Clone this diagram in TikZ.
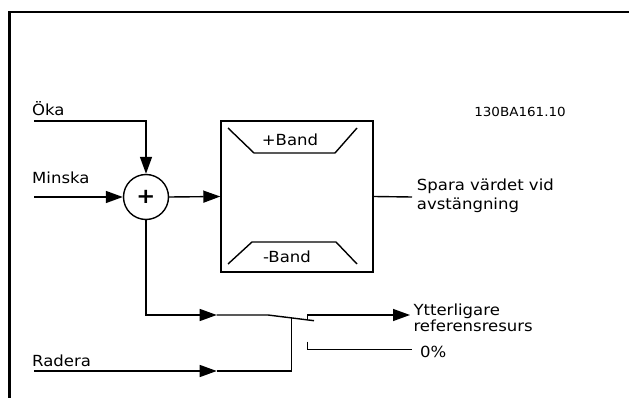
\documentclass[tikz,border=0pt]{standalone}
\usepackage{fontspec}
\setmainfont{DejaVu Sans}[FakeStretch=1.08]
\usetikzlibrary{arrows.meta}

\begin{document}
\begin{tikzpicture}[x=1pt,y=-1pt,
    wire/.style={line width=1.4pt},
    pil/.style={wire,-{Triangle[length=17pt,width=12pt]}},
    txt/.style={inner sep=0pt,font=\fontsize{15.3}{16}\selectfont},
  ]
  \useasboundingbox (0,0) rectangle (629,398);
  % ram
  \draw[line width=2.5pt] (9.5,398) -- (9.5,12) -- (629,12);
  % summering och bandblock
  \node[draw,wire,circle,minimum size=45pt,inner sep=0pt,
        font=\fontsize{21}{21}\selectfont\bfseries] (sum) at (146,197) {+};
  \node[draw,wire,minimum width=152pt,minimum height=151pt,inner sep=0pt] (band) at (297,196.5) {};
  \draw[wire] (228,128) -- (254,153) -- (335,153) -- (357,128);
  \draw[wire] (228,264) -- (252,242) -- (336,242) -- (357,264);
  \node[txt,anchor=base] (plusband) at (290,146) {+Band};
  \node[txt,anchor=base] (minusband) at (287,262) {-Band};
  % in- och utgaangar
  \coordinate (okaIn) at (34,121);
  \coordinate (minIn) at (34,197);
  \coordinate (radIn) at (34,371);
  \coordinate (sparaUt) at (412,197);
  \coordinate (midA) at (216.7,315);
  \coordinate (leverA) at (268,315);
  \coordinate (leverB) at (314,320.7);
  \coordinate (pivot) at (291.7,317.9);
  \coordinate (midB) at (216.7,371);
  \coordinate (radHorn) at (291.7,371);
  \coordinate (kontaktA) at (307.7,320);
  \coordinate (ytterUt) at (410,315);
  \coordinate (kontaktB) at (307.7,341.7);
  \coordinate (nollUt) at (411.7,349.3);
  \node[txt,anchor=base west] (oka) at (32,116) {Öka};
  \node[txt,anchor=base west] (minska) at (32,184) {Minska};
  \node[txt,anchor=base west] (radera) at (32,366.7) {Radera};
  \node[txt,anchor=base west,align=left,font=\fontsize{15.3}{18.6}\selectfont] (spara) at (416.7,209.3) {Spara värdet vid\\avstängning};
  \node[txt,anchor=base west,align=left] (ytter) at (413.3,331.7) {Ytterligare\\referensresurs};
  \node[txt,anchor=base west] (noll) at (420,357) {0\%};
  \node[inner sep=0pt,font=\fontsize{12.5}{13}\selectfont] (kod) at (520,112) {130BA161.10};
  % ledningar
  \draw[pil] (okaIn) -| (sum.north);
  \draw[pil] (minIn) -- (sum.west);
  \draw[pil] (sum.east) -- (band.west);
  \draw[wire] (band.east) -- (sparaUt);
  % omkopplare
  \draw[pil] (sum.south) |- (midA);
  \draw[wire] (midA) -- (leverA) -- (leverB);
  \draw[pil] (radIn) -- (midB);
  \draw[wire] (midB) -- (radHorn) -- (pivot);
  \draw[pil] (kontaktA) |- (ytterUt);
  \draw[wire] (kontaktB) |- (nollUt);
\end{tikzpicture}
\end{document}
